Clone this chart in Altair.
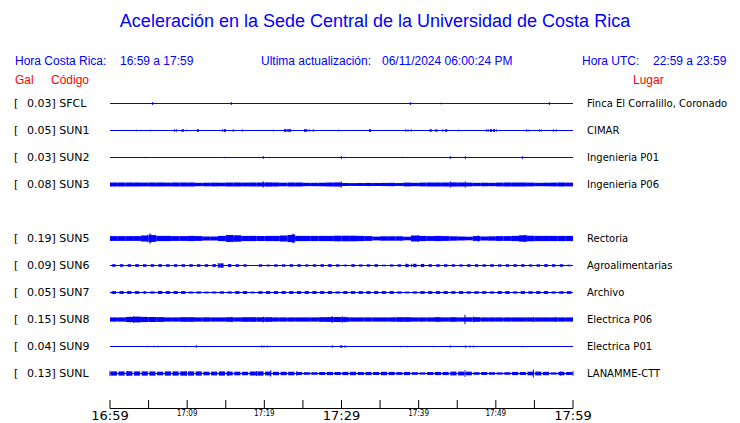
import altair as alt
import pandas as pd

# ---------------- data ----------------
codes = ["SFCL", "SUN1", "SUN2", "SUN3", "SUN5", "SUN6", "SUN7", "SUN8", "SUN9", "SUNL"]
rows = [0, 1, 2, 3, 5, 6, 7, 8, 9, 10]
gal = [0.03, 0.05, 0.03, 0.08, 0.19, 0.09, 0.05, 0.15, 0.04, 0.13]
places = ["Finca El Corralillo, Coronado", "CIMAR", "Ingenieria P01", "Ingenieria P06",
          "Rectoria", "Agroalimentarias", "Archivo", "Electrica P06", "Electrica P01",
          "LANAMME-CTT"]

tick_minutes = [0, 5, 10, 15, 20, 25, 30, 35, 40, 45, 50, 55, 60]
major_ticks = [0, 30, 60]
major_labels = ["16:59", "17:29", "17:59"]
minor_ticks = [10, 20, 40, 50]
minor_labels = ["17:09", "17:19", "17:39", "17:49"]

# per-minute envelope (half amplitude, px) of the dense traces
env_SUN3 = [2.0, 2.0, 2.0, 2.0, 1.9, 2.0, 2.0, 1.9, 2.0, 2.0,
            2.0, 1.7, 1.8, 1.9, 1.8, 2.0, 2.0, 1.9, 2.0, 2.0,
            2.1, 2.0, 1.8, 2.0, 2.0, 1.7, 1.7, 1.8, 2.0, 2.1,
            1.5, 1.4, 1.5, 1.6, 1.5, 1.6, 1.7, 1.5, 1.9, 1.7,
            1.9, 2.0, 2.0, 2.0, 2.1, 2.0, 1.9, 1.7, 1.8, 1.7,
            1.9, 2.0, 2.0, 2.0, 1.9, 1.7, 1.8, 1.9, 2.0, 1.9]
env_SUN5 = [2.4, 2.4, 2.4, 2.4, 3.0, 3.4, 2.6, 2.6, 2.4, 2.4,
            2.6, 2.4, 2.0, 2.0, 2.6, 3.4, 3.2, 2.6, 2.6, 2.4,
            2.6, 2.6, 3.0, 3.6, 2.6, 2.6, 2.6, 2.6, 2.6, 2.8,
            2.8, 2.8, 2.6, 2.4, 1.9, 2.2, 2.2, 2.2, 1.8, 3.0,
            2.6, 2.4, 2.6, 2.4, 2.2, 2.0, 1.8, 2.4, 2.0, 2.2,
            2.4, 2.4, 2.6, 3.2, 2.8, 2.6, 2.6, 2.6, 2.6, 2.6]
env_SUN6 = [1.3, 1.3, 1.3, 1.4, 1.3, 1.3, 1.4, 1.3, 1.3, 1.3,
            1.3, 1.3, 1.3, 1.4, 2.2, 1.5, 1.3, 1.2, 0.0, 1.2,
            0.9, 1.2, 1.2, 1.3, 1.3, 1.1, 1.2, 1.3, 1.4, 1.2,
            0.9, 1.3, 1.1, 1.2, 1.3, 0.8, 1.1, 1.2, 1.4, 1.7,
            1.5, 1.3, 1.3, 1.3, 1.2, 1.1, 1.3, 1.3, 1.2, 1.3,
            1.2, 1.3, 1.3, 1.3, 1.1, 1.2, 1.4, 1.3, 1.3, 0.8]
env_SUN7 = [1.4, 1.4, 1.4, 1.4, 0.9, 1.1, 1.5, 1.4, 1.4, 1.4,
            1.0, 1.1, 0.9, 1.0, 1.2, 1.1, 1.4, 1.4, 0.9, 1.3,
            1.4, 1.4, 1.4, 1.4, 1.4, 1.4, 1.4, 1.4, 1.4, 1.1,
            1.4, 1.4, 1.4, 1.4, 1.4, 1.4, 1.4, 1.1, 0.9, 1.1,
            1.4, 1.4, 1.4, 1.4, 1.3, 1.4, 1.2, 1.3, 1.3, 1.1,
            1.4, 1.4, 1.1, 1.4, 1.3, 1.4, 1.4, 1.1, 1.3, 1.4]
env_SUN8 = [2.1, 2.1, 2.5, 2.9, 2.6, 2.5, 2.4, 2.1, 2.1, 2.3,
            2.3, 2.1, 2.2, 2.1, 2.1, 2.3, 2.1, 2.3, 2.3, 2.3,
            2.3, 2.1, 2.1, 2.1, 2.1, 2.1, 2.1, 2.3, 2.4, 2.5,
            2.3, 2.1, 2.1, 2.1, 2.1, 2.1, 2.1, 2.3, 2.3, 2.1,
            2.1, 2.1, 2.3, 2.1, 2.3, 2.1, 2.2, 2.3, 2.1, 2.1,
            2.1, 2.1, 2.1, 2.1, 2.1, 2.1, 2.1, 2.1, 2.1, 2.1]
env_SUNL = [2.1, 2.1, 2.2, 2.1, 2.1, 2.1, 1.8, 2.1, 2.1, 2.1,
            2.1, 2.1, 1.8, 1.9, 2.1, 1.9, 1.8, 1.7, 2.0, 2.1,
            1.9, 1.7, 1.7, 1.8, 1.5, 1.3, 1.3, 1.5, 1.6, 1.5,
            1.6, 1.7, 1.5, 1.6, 1.5, 1.7, 1.6, 1.4, 1.6, 1.3,
            1.1, 1.5, 1.6, 1.6, 1.9, 1.9, 1.8, 1.3, 1.5, 1.3,
            1.1, 1.3, 1.6, 1.5, 1.8, 1.9, 1.7, 1.1, 1.7, 1.5]

envelopes = {"SUN3": env_SUN3, "SUN5": env_SUN5, "SUN6": env_SUN6,
             "SUN7": env_SUN7, "SUN8": env_SUN8, "SUNL": env_SUNL}

# spikes: (minute, half amplitude px)
spk_SFCL = [(5.53, 1.5), (15.72, 1.5), (38.92, 1.5), (42.94, 0.8), (56.93, 1.5)]
spk_SUN1 = [(3.41, 0.8), (5.23, 0.8), (8.34, 1.3), (8.60, 1.3), (9.35, 1.4), (9.5, 1.4),
            (9.89, 0.8), (11.35, 1.4), (11.45, 1.4), (14.60, 1.3), (14.85, 1.4), (14.95, 1.4),
            (15.98, 1.2), (17.15, 1.2), (21.17, 0.8), (22.6, 1.4), (22.75, 1.4), (22.95, 1.4),
            (23.1, 1.4), (23.25, 1.4), (23.4, 1.4), (25.2, 1.4), (25.35, 1.4), (25.5, 1.4),
            (25.83, 1.2), (26.35, 1.2), (29.59, 0.8), (33.62, 1.4), (33.76, 1.4), (38.31, 1.2),
            (38.62, 1.2), (39.05, 1.2), (41.5, 1.4), (41.62, 1.4), (42.22, 1.4), (42.36, 1.4),
            (43.15, 1.3), (43.5, 1.4), (43.65, 1.4), (45.14, 0.8), (48.81, 1.2), (49.02, 1.2),
            (49.3, 1.4), (49.44, 1.4), (49.7, 1.4), (49.82, 1.4), (50.07, 1.2), (54.0, 1.2),
            (54.30, 1.0), (55.68, 1.2), (55.94, 1.0), (57.45, 1.2), (57.84, 1.2)]
spk_SUN2 = [(4.66, 0.7), (14.82, 0.7), (19.87, 1.4), (20.65, 0.7), (29.98, 1.4), (30.45, 0.7),
            (37.88, 0.7), (44.10, 1.4), (46.05, 1.4), (53.44, 1.4)]
spk_SUN3 = [(19.87, 3.0), (29.98, 3.0), (44.10, 3.0), (46.05, 3.0)]
spk_SUN5 = [(4.88, 3.8), (5.18, 5.2), (5.3, 4.2), (15.56, 3.6), (15.9, 3.4), (23.7, 4.8),
            (23.85, 4.4), (39.96, 3.4), (47.73, 3.2), (53.69, 3.6), (53.9, 3.4)]
spk_SUN6 = [(14.04, 2.4), (14.2, 2.1), (38.4, 2.0), (39.1, 1.7)]
spk_SUN7 = [(4.5, 1.6)]
spk_SUN8 = [(2.6, 3.0), (3.02, 3.4), (15.8, 2.7), (19.9, 2.8), (28.8, 3.4), (30.1, 3.2),
            (30.45, 2.8), (36.8, 2.6), (42.5, 2.6), (46.0, 4.7), (47.1, 2.8), (54.9, 2.5),
            (57.8, 2.5)]
spk_SUN9 = [(4.84, 0.7), (5.75, 0.7), (6.26, 0.7), (9.76, 0.7), (11.19, 1.2), (19.65, 1.0),
            (19.96, 1.0), (20.39, 1.0), (20.73, 0.7), (28.81, 1.2), (29.9, 1.3), (30.05, 1.3),
            (30.45, 1.2), (37.67, 0.7), (38.53, 0.7), (41.9, 0.7), (44.1, 1.2), (46.05, 1.2),
            (46.65, 1.0), (47.08, 1.0), (53.43, 0.7)]
spk_SUNL = [(0.0, 2.6), (2.29, 2.5), (9.89, 2.5), (15.33, 2.5), (18.98, 2.5), (20.82, 3.1),
            (24.2, 2.2), (46.0, 3.3), (54.86, 4.0), (58.4, 2.2), (60.0, 2.3)]

spikes = {"SFCL": spk_SFCL, "SUN1": spk_SUN1, "SUN2": spk_SUN2, "SUN3": spk_SUN3,
          "SUN5": spk_SUN5, "SUN6": spk_SUN6, "SUN7": spk_SUN7, "SUN8": spk_SUN8,
          "SUN9": spk_SUN9, "SUNL": spk_SUNL}

# ---------------- styles ----------------
BLUE = "#0000ff"
RED = "#ff0000"
ROW_PX = 27.0
inset = {"SUN3": 0.0, "SUN5": 0.0, "SUN6": 0.28, "SUN7": 0.22, "SUN8": 0.0, "SUNL": 0.1}

row_of = dict(zip(codes, rows))

stations = pd.DataFrame({"code": codes, "row": rows, "gal": gal, "place": places})
stations["label"] = stations.apply(lambda r: f"{r['gal']:.2f}] {r['code']}", axis=1)
stations["x0"] = 0
stations["x1"] = 60

env_rows = []
for c, vals in envelopes.items():
    for k, a in enumerate(vals):
        if a > 0:
            env_rows.append({"x": k + inset[c], "x2": k + 1 - inset[c],
                             "y": row_of[c] - a / ROW_PX, "y2": row_of[c] + a / ROW_PX})
env_df = pd.DataFrame(env_rows)

spk_rows = []
for c, lst in spikes.items():
    for t, a in lst:
        spk_rows.append({"x": t, "y": row_of[c] - a / ROW_PX, "y2": row_of[c] + a / ROW_PX})
spk_df = pd.DataFrame(spk_rows)

ticks_df = pd.DataFrame({"t": tick_minutes})
major_df = pd.DataFrame({"t": major_ticks, "lab": major_labels})
minor_df = pd.DataFrame({"t": minor_ticks, "lab": minor_labels})
axis_df = pd.DataFrame({"x0": [0], "x1": [60]})

xs = alt.Scale(domain=[0, 60], range=[102, 565])
ys = alt.Scale(domain=[0, 10], range=[95.5, 365.5])

X = lambda f: alt.X(f, type="quantitative", scale=xs, axis=None)
Y = lambda f: alt.Y(f, type="quantitative", scale=ys, axis=None)

baselines = alt.Chart(stations).mark_rule(color=BLUE, strokeWidth=1).encode(
    x=X("x0"), x2="x1", y=Y("row"))
bands = alt.Chart(env_df).mark_rect(color=BLUE, opacity=1).encode(
    x=X("x"), x2="x2", y=Y("y"), y2="y2")
spk = alt.Chart(spk_df).mark_rule(color=BLUE, strokeWidth=1).encode(
    x=X("x"), y=Y("y"), y2="y2")

left_br = alt.Chart(stations).mark_text(text="[", align="left", baseline="middle",
                                        font="DejaVu Sans", fontSize=11, color="black").encode(
    x=alt.value(6), y=Y("row"))
left_lab = alt.Chart(stations).mark_text(align="left", baseline="middle",
                                         font="DejaVu Sans", fontSize=11, color="black").encode(
    x=alt.value(19), y=Y("row"), text="label:N")
right_lab = alt.Chart(stations).mark_text(align="left", baseline="middle",
                                          font="DejaVu Sans", fontSize=10, color="black").encode(
    x=alt.value(579), y=Y("row"), text="place:N")

axis_line = alt.Chart(axis_df).mark_rule(color="black", strokeWidth=1).encode(
    x=X("x0"), x2="x1", y=alt.value(400.5))
axis_ticks = alt.Chart(ticks_df).mark_rule(color="black", strokeWidth=1).encode(
    x=X("t"), y=alt.value(392), y2=alt.value(400.5))
major_text = alt.Chart(major_df).mark_text(align="center", baseline="middle",
                                           font="DejaVu Sans", fontSize=13, color="black").encode(
    x=X("t"), y=alt.value(407.5), text="lab:N")
minor_text = alt.Chart(minor_df).mark_text(align="center", baseline="middle",
                                           font="DejaVu Sans Condensed", fontSize=8, color="black").encode(
    x=X("t"), y=alt.value(405.5), text="lab:N")

dummy = pd.DataFrame({"a": [0]})


def label(txt, x, y, size, color, align="left", font="Liberation Sans"):
    return alt.Chart(dummy).mark_text(text=txt, align=align, baseline="middle", font=font,
                                      fontSize=size, color=color).encode(
        x=alt.value(x), y=alt.value(y))


header = [
    label("Aceleración en la Sede Central de la Universidad de Costa Rica", 367, 14, 18, BLUE,
          align="center"),
    label("Hora Costa Rica:", 7, 53, 12, BLUE),
    label("16:59 a 17:59", 112, 53, 12, BLUE),
    label("Ultima actualización:", 253, 53, 12, BLUE),
    label("06/11/2024 06:00:24 PM", 374, 53, 12, BLUE),
    label("Hora UTC:", 574, 53, 12, BLUE),
    label("22:59 a 23:59", 645, 53, 12, BLUE),
    label("Gal", 7, 72, 12, RED),
    label("Código", 43, 72, 12, RED),
    label("Lugar", 625, 72, 12, RED),
]

chart = alt.layer(
    baselines, bands, spk, left_br, left_lab, right_lab,
    axis_line, axis_ticks, major_text, minor_text, *header
).properties(
    width=724, height=415, padding=0,
    autosize=alt.AutoSizeParams(type="none"),
    background="white",
).configure_view(stroke=None)

chart.save("out.html", embed_options={"renderer": "svg", "actions": False})
